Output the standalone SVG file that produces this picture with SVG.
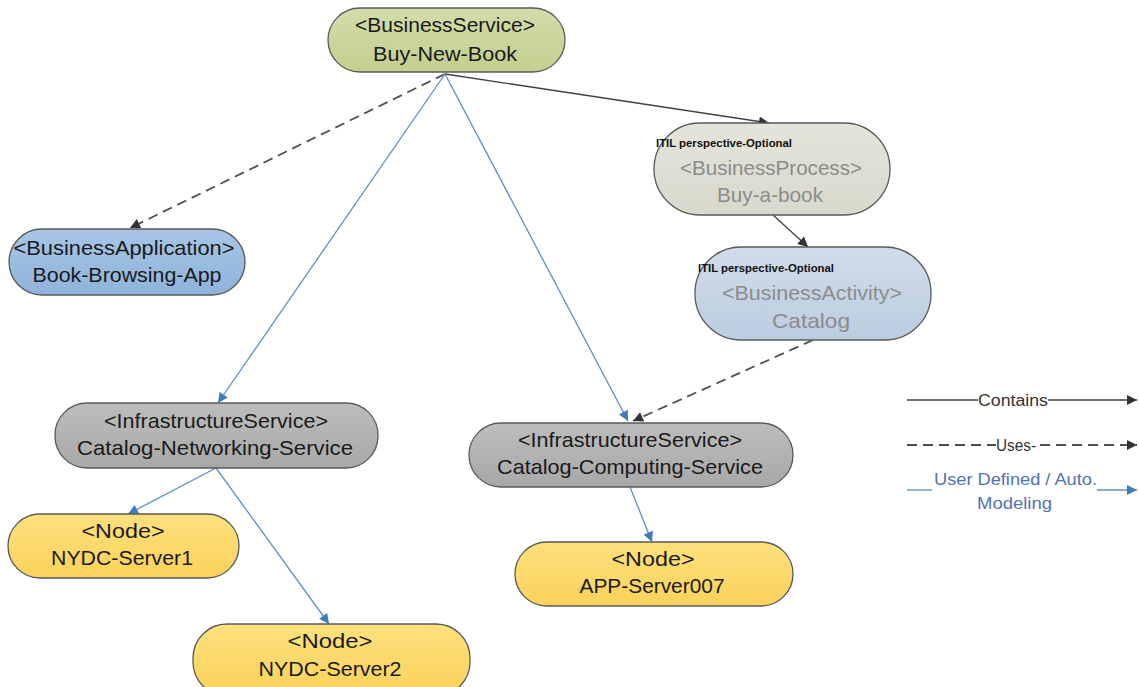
<svg xmlns="http://www.w3.org/2000/svg" width="1139" height="687" viewBox="0 0 1139 687">
<style>
.node rect{stroke:#5a5a5a;stroke-width:1.3}
.t{font-family:"Liberation Sans",Arial,sans-serif;font-size:21px;fill:#1a1a1a;text-anchor:middle}
.tg{font-family:"Liberation Sans",Arial,sans-serif;font-size:21px;fill:#8c8c8c;text-anchor:middle}
.itil{font-family:"Liberation Sans",Arial,sans-serif;font-size:10.5px;font-weight:bold;fill:#111}
.lg{font-family:"Liberation Sans",Arial,sans-serif;font-size:16px;fill:#333}
.lgb{font-family:"Liberation Sans",Arial,sans-serif;font-size:16px;fill:#4f72b8}
.contains{stroke:#404040;stroke-width:1.3;fill:none;marker-end:url(#ab)}
.uses{stroke:#505050;stroke-width:1.8;stroke-dasharray:10 6;fill:none;marker-end:url(#ab)}
.user{stroke:#5b8fc7;stroke-width:1.3;fill:none;marker-end:url(#abl)}
</style>
<defs>
<marker id="ab" viewBox="0 0 10 10" refX="10" refY="5" markerWidth="11" markerHeight="10" markerUnits="userSpaceOnUse" orient="auto"><path d="M0,0 L10,5 L0,10 z" fill="#333"/></marker>
<marker id="abl" viewBox="0 0 10 10" refX="10" refY="5" markerWidth="11" markerHeight="10" markerUnits="userSpaceOnUse" orient="auto"><path d="M0,0 L10,5 L0,10 z" fill="#3f7cbf"/></marker>
<linearGradient id="gGreen" x1="0" y1="0" x2="0" y2="1"><stop offset="0" stop-color="#d3dcaa"/><stop offset="1" stop-color="#c3cf8e"/></linearGradient>
<linearGradient id="gBlue" x1="0" y1="0" x2="0" y2="1"><stop offset="0" stop-color="#a7c6e6"/><stop offset="1" stop-color="#8fb3da"/></linearGradient>
<linearGradient id="gBeige" x1="0" y1="0" x2="0" y2="1"><stop offset="0" stop-color="#e4e4da"/><stop offset="1" stop-color="#d8d9cb"/></linearGradient>
<linearGradient id="gLBlue" x1="0" y1="0" x2="0" y2="1"><stop offset="0" stop-color="#d0dcea"/><stop offset="1" stop-color="#bccde0"/></linearGradient>
<linearGradient id="gGray" x1="0" y1="0" x2="0" y2="1"><stop offset="0" stop-color="#bdbdbd"/><stop offset="1" stop-color="#a8a8a8"/></linearGradient>
<linearGradient id="gYel" x1="0" y1="0" x2="0" y2="1"><stop offset="0" stop-color="#fde07e"/><stop offset="1" stop-color="#fbd25a"/></linearGradient>
</defs>
<rect width="1139" height="687" fill="#ffffff"/>

<g id="connectors">
<line class="contains" x1="445" y1="74" x2="769" y2="123"/>
<line class="contains" x1="773" y1="215" x2="808" y2="247"/>
<line class="uses" x1="445" y1="74" x2="130" y2="228"/>
<line class="uses" x1="813" y1="340" x2="633" y2="421"/>
<line class="user" x1="445" y1="74" x2="218" y2="403"/>
<line class="user" x1="445" y1="74" x2="628" y2="421"/>
<line class="user" x1="216" y1="468" x2="128" y2="514"/>
<line class="user" x1="216" y1="468" x2="329" y2="624"/>
<line class="user" x1="630" y1="487" x2="652" y2="542"/>
</g>

<g id="buy-new-book" class="node">
<rect x="328" y="8" width="237" height="64" rx="32" fill="url(#gGreen)"/>
<text class="t" x="445" y="32" textLength="180" lengthAdjust="spacingAndGlyphs">&lt;BusinessService&gt;</text>
<text class="t" x="445" y="61" textLength="144" lengthAdjust="spacingAndGlyphs">Buy-New-Book</text>
</g>

<g id="book-browsing-app" class="node">
<rect x="9" y="229" width="236" height="66" rx="33" fill="url(#gBlue)"/>
<text class="t" x="124" y="255" textLength="221" lengthAdjust="spacingAndGlyphs">&lt;BusinessApplication&gt;</text>
<text class="t" x="127" y="282" textLength="189" lengthAdjust="spacingAndGlyphs">Book-Browsing-App</text>
</g>

<g id="buy-a-book" class="node">
<rect x="654" y="123" width="236" height="92" rx="46" fill="url(#gBeige)"/>
<text class="itil" x="656" y="147" textLength="136" lengthAdjust="spacingAndGlyphs">ITIL perspective-Optional</text>
<text class="tg" x="771" y="175" textLength="182" lengthAdjust="spacingAndGlyphs">&lt;BusinessProcess&gt;</text>
<text class="tg" x="770" y="202" textLength="106" lengthAdjust="spacingAndGlyphs">Buy-a-book</text>
</g>

<g id="catalog" class="node">
<rect x="695" y="247" width="236" height="93" rx="46" fill="url(#gLBlue)"/>
<text class="itil" x="698" y="272" textLength="136" lengthAdjust="spacingAndGlyphs">ITIL perspective-Optional</text>
<text class="tg" x="812" y="300" textLength="180" lengthAdjust="spacingAndGlyphs">&lt;BusinessActivity&gt;</text>
<text class="tg" x="811" y="328" textLength="78" lengthAdjust="spacingAndGlyphs">Catalog</text>
</g>

<g id="catalog-networking-service" class="node">
<rect x="55" y="403" width="323" height="65" rx="32" fill="url(#gGray)"/>
<text class="t" x="216" y="428" textLength="224" lengthAdjust="spacingAndGlyphs">&lt;InfrastructureService&gt;</text>
<text class="t" x="215" y="455" textLength="276" lengthAdjust="spacingAndGlyphs">Catalog-Networking-Service</text>
</g>

<g id="catalog-computing-service" class="node">
<rect x="469" y="423" width="324" height="64" rx="32" fill="url(#gGray)"/>
<text class="t" x="630" y="447" textLength="224" lengthAdjust="spacingAndGlyphs">&lt;InfrastructureService&gt;</text>
<text class="t" x="630" y="474" textLength="266" lengthAdjust="spacingAndGlyphs">Catalog-Computing-Service</text>
</g>

<g id="nydc-server1" class="node">
<rect x="8" y="514" width="231" height="64" rx="32" fill="url(#gYel)"/>
<text class="t" x="123" y="538" textLength="83" lengthAdjust="spacingAndGlyphs">&lt;Node&gt;</text>
<text class="t" x="122" y="565" textLength="142" lengthAdjust="spacingAndGlyphs">NYDC-Server1</text>
</g>

<g id="nydc-server2" class="node">
<rect x="193" y="624" width="277" height="72" rx="34" fill="url(#gYel)"/>
<text class="t" x="330" y="648" textLength="85" lengthAdjust="spacingAndGlyphs">&lt;Node&gt;</text>
<text class="t" x="330" y="676" textLength="143" lengthAdjust="spacingAndGlyphs">NYDC-Server2</text>
</g>

<g id="app-server007" class="node">
<rect x="515" y="542" width="278" height="64" rx="32" fill="url(#gYel)"/>
<text class="t" x="653" y="566" textLength="83" lengthAdjust="spacingAndGlyphs">&lt;Node&gt;</text>
<text class="t" x="652" y="593" textLength="145" lengthAdjust="spacingAndGlyphs">APP-Server007</text>
</g>

<g id="legend">
<line x1="907" y1="400" x2="978" y2="400" stroke="#404040" stroke-width="1.3"/>
<text class="lg" x="978" y="406" textLength="70" lengthAdjust="spacingAndGlyphs">Contains</text>
<line class="contains" x1="1048" y1="400" x2="1137" y2="400"/>
<line x1="907" y1="445" x2="996" y2="445" stroke="#505050" stroke-width="1.8" stroke-dasharray="10 6"/>
<text class="lg" x="996" y="451" textLength="40" lengthAdjust="spacingAndGlyphs">Uses-</text>
<line class="uses" x1="1040" y1="445" x2="1137" y2="445"/>
<line x1="907" y1="490" x2="932" y2="490" stroke="#5b8fc7" stroke-width="1.3"/>
<text class="lgb" x="934" y="485" textLength="163" lengthAdjust="spacingAndGlyphs">User Defined / Auto.</text>
<text class="lgb" x="977" y="509" textLength="75" lengthAdjust="spacingAndGlyphs">Modeling</text>
<line class="user" x1="1097" y1="490" x2="1137" y2="490"/>
</g>
</svg>
